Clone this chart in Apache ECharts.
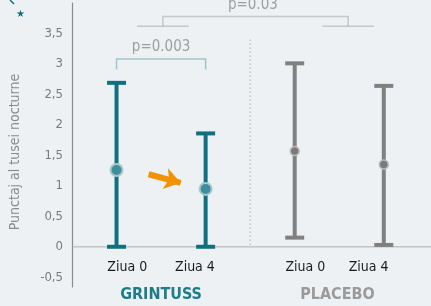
<!DOCTYPE html>
<html lang="ro">
<head>
<meta charset="UTF-8">
<title>Grintuss vs placebo</title>
<script src="https://cdnjs.cloudflare.com/ajax/libs/echarts/6.0.0/echarts.min.js"></script>
<style>
  html, body { margin: 0; padding: 0; background: #edf1f4; }
  #main { width: 431px; height: 306px; }
</style>
</head>
<body>
<div id="main"></div>
<script>
// date
const categories = ['Ziua 0', 'Ziua 4', 'Ziua 0', 'Ziua 4'];
const xPos = [1, 2, 3, 4];
const labelPos = [1.12, 1.88, 3.12, 3.83];
const groups = ['GRINTUSS', 'PLACEBO'];
const groupPos = [1.5, 3.48];
const means = [1.26, 0.95, 1.57, 1.35];
const lows = [0, 0, 0.15, 0.03];
const highs = [2.69, 1.86, 3.01, 2.64];
const yTicks = [-0.5, 0, 0.5, 1, 1.5, 2, 2.5, 3, 3.5];

const TEAL = '#10707f';
const GRAY = '#808080';
const FONT = '"DejaVu Sans Condensed", "Liberation Sans Narrow", sans-serif';

const chart = echarts.init(document.getElementById('main'));

function renderBar(params, api) {
  const x = api.value(0);
  const top = api.coord([x, api.value(2)]);
  const bot = api.coord([x, api.value(1)]);
  const color = params.dataIndex < 2 ? TEAL : GRAY;
  const half = 9.5;
  const style = { stroke: color, lineWidth: 4 };
  return {
    type: 'group',
    children: [
      { type: 'line', shape: { x1: top[0], y1: top[1], x2: bot[0], y2: bot[1] }, style: style },
      { type: 'line', shape: { x1: top[0] - half, y1: top[1], x2: top[0] + half, y2: top[1] }, style: style },
      { type: 'line', shape: { x1: bot[0] - half, y1: bot[1], x2: bot[0] + half, y2: bot[1] }, style: style }
    ]
  };
}

const option = {
  backgroundColor: '#edf1f4',
  animation: false,
  grid: { left: 71, right: 0, top: 3, bottom: 19 },
  xAxis: [
    {
      // etichetele zilelor, deasupra marginii de jos
      type: 'value', min: 0.5, max: 4.53, position: 'bottom',
      axisLine: { show: false, onZero: false },
      axisTick: { show: false },
      splitLine: { show: false },
      axisLabel: {
        inside: true,
        customValues: labelPos,
        formatter: (v) => categories[labelPos.indexOf(v)] || '',
        color: '#1a1a1a', fontFamily: FONT, fontSize: 14, margin: 13
      }
    },
    {
      type: 'value', min: 0.5, max: 4.53, position: 'bottom',
      axisLine: { show: false, onZero: false },
      axisTick: { show: false },
      splitLine: { show: false },
      axisLabel: {
        customValues: groupPos,
        formatter: (v) => v < 2.5 ? '{a|' + groups[0] + '}' : '{b|' + groups[1] + '}',
        margin: 0,
        rich: {
          a: { color: '#1d7c8a', fontFamily: FONT, fontWeight: 'bold', fontSize: 16 },
          b: { color: '#9a9a9a', fontFamily: FONT, fontWeight: 'bold', fontSize: 16 }
        }
      }
    }
  ],
  yAxis: {
    type: 'value', min: -0.66, max: 4,
    name: 'Punctaj al tusei nocturne',
    nameLocation: 'middle', nameGap: 50,
    nameTextStyle: { color: '#8a8a8a', fontFamily: FONT, fontSize: 14, padding: [0, 14, 0, 0] },
    axisLine: { show: true, onZero: false, lineStyle: { color: '#8c8c8c', width: 1.2 } },
    axisTick: { show: false },
    splitLine: { show: false },
    axisLabel: {
      customValues: yTicks,
      formatter: (v) => String(v).replace('.', ','),
      color: '#7a7a7a', fontFamily: FONT, fontSize: 13, margin: 9
    }
  },
  graphic: [
    { type: 'text', left: 16, top: 9, style: { text: '★', fill: TEAL, fontSize: 10 } },
    { type: 'line', shape: { x1: 10, y1: 0, x2: 14, y2: 4 }, style: { stroke: TEAL, lineWidth: 1.5 } }
  ],
  series: [
    {
      // linia de zero
      type: 'lines', coordinateSystem: 'cartesian2d', polyline: true, silent: true,
      lineStyle: { color: '#9a9a9a', width: 1.5 },
      data: [{ coords: [[0.5, 0], [4.53, 0]] }]
    },
    {
      type: 'lines', coordinateSystem: 'cartesian2d', polyline: true, silent: true,
      lineStyle: { color: '#999', width: 1.5, type: [1.5, 2.5] },
      data: [{ coords: [[2.5, 3.4], [2.5, 0]] }]
    },
    {
      type: 'lines', coordinateSystem: 'cartesian2d', polyline: true, silent: true,
      lineStyle: { color: '#4f9aa6', width: 1.5 },
      data: [{ coords: [[1, 2.91], [1, 3.08], [2, 3.08], [2, 2.91]] }]
    },
    {
      type: 'lines', coordinateSystem: 'cartesian2d', polyline: true, silent: true,
      lineStyle: { color: '#a0a0a0', width: 1.5 },
      data: [
        { coords: [[1.23, 3.62], [1.81, 3.62]] },
        { coords: [[1.52, 3.62], [1.52, 3.78], [3.6, 3.78], [3.6, 3.62]] },
        { coords: [[3.31, 3.62], [3.89, 3.62]] }
      ]
    },
    {
      type: 'lines', coordinateSystem: 'cartesian2d', silent: true,
      symbol: ['none', 'arrow'], symbolSize: 16,
      lineStyle: { color: '#f39200', width: 6, opacity: 1 },
      data: [{ coords: [[1.36, 1.19], [1.72, 1.05]] }]
    },
    {
      type: 'custom', renderItem: renderBar, silent: true,
      data: xPos.map((x, i) => [x, lows[i], highs[i]]),
      encode: { x: 0, y: [1, 2] }, clip: false
    },
    {
      type: 'scatter', silent: true, clip: false,
      data: xPos.map((x, i) => ({
        value: [x, means[i]],
        symbolSize: i < 2 ? 12 : 9,
        itemStyle: i < 2
          ? { color: '#3e8e9b', borderColor: '#a7c8cd', borderWidth: 2, opacity: 1 }
          : { color: '#7a7a7a', borderColor: '#bcbcbc', borderWidth: 1.5, opacity: 1 }
      }))
    },
    {
      type: 'scatter', silent: true, clip: false, symbolSize: 0,
      label: {
        show: true, position: 'inside', formatter: (p) => p.data.name,
        color: '#8a8a8a', fontFamily: FONT, fontSize: 15
      },
      data: [
        { name: 'p=0.003', value: [1.5, 3.28] },
        { name: 'p=0.03', value: [2.53, 3.97] }
      ]
    }
  ]
};

chart.setOption(option);
</script>
</body>
</html>
